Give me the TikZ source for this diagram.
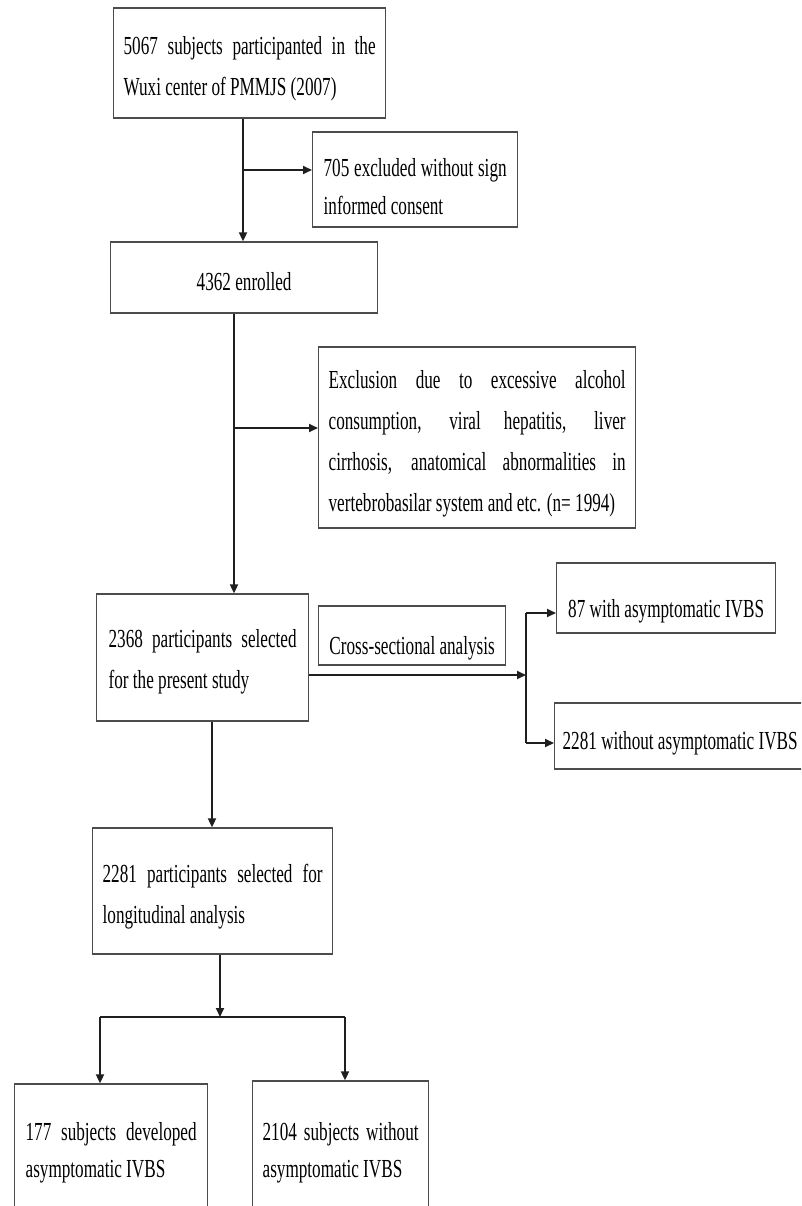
\documentclass[tikz,border=0pt]{standalone}
\usepackage{fontspec}
\newfontfamily\tnr[FakeStretch=0.66]{Liberation Serif}
\usetikzlibrary{arrows.meta}
\newcommand{\jline}[1]{\makebox[\hsize][s]{#1}}
\begin{document}
\begin{tikzpicture}[x=1pt,y=-1pt,
  bx/.style={draw=black!70,line width=1.3pt,rectangle,inner ysep=0pt,align=justify,
             anchor=base west,font=\tnr\fontsize{26}{41}\selectfont,
             execute at begin node={\hyphenpenalty=10000\exhyphenpenalty=10000\spaceskip=0pt\xspaceskip=0pt}},
  bxs/.style={bx,font=\tnr\fontsize{26}{37.5}\selectfont},
  one/.style={bx,align=center,inner xsep=0pt},
  ln/.style={draw=black!88,line width=1.8pt},
  arr/.style={ln,-{Triangle[length=9pt,width=8pt]}}]
\clip (0,0) rectangle (801,1206);
\fill[white] (0,0) rectangle (801,1206);

% boxes
\node[bx,inner xsep=10pt,text width=252pt,text height=47pt,text depth=63pt] (B1) at (113,55)
  {\jline{5067 subjects participanted in the}\\Wuxi center of PMMJS (2007)};
\node[bxs,inner xsep=11pt,text width=183pt,text height=45pt,text depth=50pt] (B2) at (312,177)
  {\jline{705 excluded without sign}\\informed consent};
\node[one,minimum width=267pt,text height=48pt,text depth=23pt] (B3) at (110,290)
  {4362 enrolled};
\node[bx,inner xsep=10pt,text width=297pt,text height=41pt,text depth=140pt] (B4) at (318,388)
  {\jline{Exclusion due to excessive alcohol}\\
   \jline{consumption, viral hepatitis, liver}\\
   \jline{cirrhosis, anatomical abnormalities in}\\
   vertebrobasilar system and etc. (n= 1994)};
\node[bx,inner xsep=12pt,text width=188pt,text height=53pt,text depth=74pt] (B5) at (96,647)
  {\jline{2368 participants selected}\\for the present study};
\node[one,minimum width=187pt,text height=48pt,text depth=11pt] (BC) at (318,654)
  {Cross-sectional analysis};
\node[one,minimum width=219pt,text height=54pt,text depth=16pt] (B87) at (556,617)
  {87 with asymptomatic IVBS};
\node[one,minimum width=251pt,text height=46pt,text depth=20pt] (B2281) at (554,749)
  {2281 without asymptomatic IVBS};
\node[bx,inner xsep=10pt,text width=220pt,text height=54pt,text depth=72pt] (B6) at (92,882)
  {\jline{2281 participants selected for}\\longitudinal analysis};
\node[bxs,inner xsep=11pt,text width=171pt,text height=56pt,text depth=120pt] (B7) at (14,1140)
  {\jline{177 subjects developed}\\asymptomatic IVBS};
\node[bxs,inner xsep=10pt,text width=156pt,text height=59pt,text depth=120pt] (B8) at (252,1140)
  {\jline{2104 subjects without}\\asymptomatic IVBS};

% connector positions
\coordinate (x1) at (243,0);
\coordinate (x2) at (234,0);
\coordinate (x5) at (212,0);
\coordinate (x4) at (220,0);
\coordinate (j1) at (243,170);
\coordinate (j2) at (234,428);
\coordinate (j3) at (526,675);
\coordinate (j4) at (526,613);
\coordinate (j5) at (526,743);
\coordinate (j6) at (220,1017);
\coordinate (j7) at (100,1017);
\coordinate (j8) at (345,1017);

% connectors
\draw[arr] (x1 |- B1.south) -- (x1 |- B3.north);
\draw[arr] (j1) -- (j1 -| B2.west);
\draw[arr] (x2 |- B3.south) -- (x2 |- B5.north);
\draw[arr] (j2) -- (j2 -| B4.west);
\draw[arr] (j3 -| B5.east) -- (j3);
\draw[ln] (j4) -- (j5);
\draw[arr] (j4) -- (j4 -| B87.west);
\draw[arr] (j5) -- (j5 -| B2281.west);
\draw[arr] (x5 |- B5.south) -- (x5 |- B6.north);
\draw[arr] (x4 |- B6.south) -- (j6);
\draw[ln] (j7) -- (j8);
\draw[arr] (j7) -- (j7 |- B7.north);
\draw[arr] (j8) -- (j8 |- B8.north);
\end{tikzpicture}
\end{document}
